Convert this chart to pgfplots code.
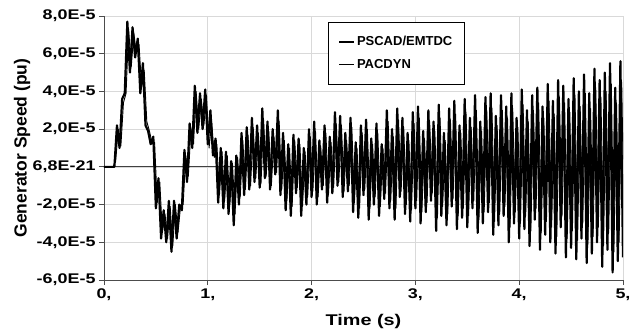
\documentclass[border=0pt]{standalone}
\usepackage{fontspec}
\setmainfont{Liberation Sans}
\newfontfamily\tickfont{Liberation Sans}[FakeStretch=1.28]
\usepackage{pgfplots}
\usepackage{pgfplotstable}
\pgfplotsset{compat=1.18}

\pgfplotstableread{
t y1 t2 y2
0.000 0 0.0125 0
0.025 0 0.0375 0
0.050 0 0.0625 0
0.075 0 0.0875 0
0.100 0 0.1125 0.3
0.125 2.2 0.1375 2.0
0.150 1.0 0.1625 1.1
0.175 3.6 0.1875 3.4
0.200 3.9 0.2125 3.9
0.225 7.7 0.2375 7.3
0.250 5.0 0.2625 5.3
0.275 7.4 0.2875 7.1
0.300 5.8 0.3125 6.0
0.325 6.8 0.3375 6.5
0.350 3.9 0.3625 4.2
0.375 5.5 0.3875 5.1
0.400 2.2 0.4125 2.4
0.425 1.9 0.4375 1.9
0.450 1.2 0.4625 1.3
0.475 1.6 0.4875 1.3
0.500 -2.2 0.5125 -1.9
0.525 -0.6 0.5375 -0.8
0.550 -3.8 0.5625 -3.5
0.575 -2.3 0.5875 -2.5
0.600 -4.0 0.6125 -3.8
0.625 -1.8 0.6375 -2.1
0.650 -4.5 0.6625 -4.2
0.675 -1.8 0.6875 -2.0
0.700 -3.8 0.7125 -3.5
0.725 -2.0 0.7375 -2.1
0.750 -2.3 0.7625 -2.0
0.775 0.9 0.7875 0.6
0.800 -0.8 0.8125 -0.5
0.825 2.3 0.8375 2.0
0.850 1.0 0.8625 1.2
0.875 4.3 0.8875 4.0
0.900 1.8 0.9125 2.0
0.925 3.9 0.9375 3.6
0.950 2.0 0.9625 2.2
0.975 4.1 0.9875 3.8
1.000 1.2 1.0125 1.0
1.025 3.0 1.0375 2.4
1.050 0.6 1.0625 0.5
1.075 1.5 1.0875 1.2
1.100 -1.9 1.1125 -1.5
1.125 1.0 1.1375 0.8
1.150 -2.2 1.1625 -1.8
1.175 0.8 1.1875 0.6
1.200 -2.5 1.2125 -2.0
1.225 0.3 1.2375 0.2
1.250 -3.1 1.2625 -2.5
1.275 0.6 1.2875 0.5
1.300 -2.0 1.3125 -1.6
1.325 1.8 1.3375 1.4
1.350 -1.5 1.3625 -1.2
1.375 2.1 1.3875 1.7
1.400 -1.2 1.4125 -1.0
1.425 2.6 1.4375 2.1
1.450 -0.8 1.4625 -0.6
1.475 2.2 1.4875 1.8
1.500 -1.1 1.5125 -0.9
1.525 3.1 1.5375 2.5
1.550 -0.6 1.5625 -0.5
1.575 2.4 1.5875 1.9
1.600 -1.2 1.6125 -1.0
1.625 2.0 1.6375 1.6
1.650 -0.4 1.6625 -0.3
1.675 3.0 1.6875 2.4
1.700 -1.5 1.7125 -1.2
1.725 1.8 1.7375 1.4
1.750 -2.3 1.7625 -1.8
1.775 1.2 1.7875 1.0
1.800 -2.6 1.8125 -2.1
1.825 1.7 1.8375 1.4
1.850 -1.4 1.8625 -1.1
1.875 1.5 1.8875 1.2
1.900 -2.6 1.9125 -2.1
1.925 1.0 1.9375 0.8
1.950 -2.0 1.9625 -1.6
1.975 2.0 1.9875 1.6
2.000 -1.6 2.0125 -1.3
2.025 2.4 2.0375 1.9
2.050 -2.0 2.0625 -1.6
2.075 1.4 2.0875 1.1
2.100 -1.2 2.1125 -1.0
2.125 2.2 2.1375 1.8
2.150 -1.9 2.1625 -1.5
2.175 1.6 2.1875 1.3
2.200 -1.4 2.2125 -1.1
2.225 2.9 2.2375 2.3
2.250 -1.0 2.2625 -0.8
2.275 2.7 2.2875 2.2
2.300 -1.6 2.3125 -1.3
2.325 1.8 2.3375 1.4
2.350 -1.3 2.3625 -1.0
2.375 2.6 2.3875 2.1
2.400 -2.4 2.4125 -1.9
2.425 1.3 2.4375 1.0
2.450 -2.7 2.4625 -2.2
2.475 2.2 2.4875 1.8
2.500 -1.5 2.5125 -1.2
2.525 2.5 2.5375 2.0
2.550 -2.8 2.5625 -2.2
2.575 1.5 2.5875 1.2
2.600 -2.0 2.6125 -1.6
2.625 2.3 2.6375 1.8
2.650 -2.6 2.6625 -2.1
2.675 1.2 2.6875 1.0
2.700 -1.7 2.7125 -1.4
2.725 3.0 2.7375 2.4
2.750 -2.2 2.7625 -1.8
2.775 2.0 2.7875 1.6
2.800 -2.8 2.8125 -2.2
2.825 3.1 2.8375 2.5
2.850 -1.6 2.8625 -1.3
2.875 2.6 2.8875 2.1
2.900 -2.5 2.9125 -2.0
2.925 1.8 2.9375 1.4
2.950 -2.9 2.9625 -2.3
2.975 2.9 2.9875 2.3
3.000 -2.2 3.0125 -1.8
3.025 3.2 3.0375 2.6
3.050 -3.0 3.0625 -2.4
3.075 1.9 3.0875 1.5
3.100 -2.4 3.1125 -1.9
3.125 3.0 3.1375 2.4
3.150 -1.8 3.1625 -1.4
3.175 2.4 3.1875 1.9
3.200 -3.4 3.2125 -2.7
3.225 3.3 3.2375 2.6
3.250 -2.6 3.2625 -2.1
3.275 1.8 3.2875 1.4
3.300 -3.1 3.3125 -2.5
3.325 3.1 3.3375 2.5
3.350 -2.1 3.3625 -1.7
3.375 3.5 3.3875 2.8
3.400 -3.3 3.4125 -2.6
3.425 2.2 3.4375 1.8
3.450 -2.7 3.4625 -2.2
3.475 3.6 3.4875 2.9
3.500 -3.2 3.5125 -2.6
3.525 2.6 3.5375 2.1
3.550 -2.2 3.5625 -1.8
3.575 3.8 3.5875 3.0
3.600 -3.5 3.6125 -2.8
3.625 2.4 3.6375 1.9
3.650 -3.0 3.6625 -2.4
3.675 3.7 3.6875 3.0
3.700 -2.4 3.7125 -1.9
3.725 3.9 3.7375 3.1
3.750 -3.6 3.7625 -2.9
3.775 2.7 3.7875 2.2
3.800 -3.1 3.8125 -2.5
3.825 3.8 3.8375 3.0
3.850 -2.6 3.8625 -2.1
3.875 3.2 3.8875 2.6
3.900 -4.0 3.9125 -3.2
3.925 3.9 3.9375 3.1
3.950 -3.0 3.9625 -2.4
3.975 2.6 3.9875 2.1
4.000 -3.8 4.0125 -3.0
4.025 4.1 4.0375 3.3
4.050 -3.3 4.0625 -2.6
4.075 3.0 4.0875 2.4
4.100 -4.2 4.1125 -3.4
4.125 3.8 4.1375 3.0
4.150 -2.8 4.1625 -2.2
4.175 4.2 4.1875 3.4
4.200 -4.4 4.2125 -3.5
4.225 3.2 4.2375 2.6
4.250 -3.6 4.2625 -2.9
4.275 4.4 4.2875 3.5
4.300 -4.0 4.3125 -3.2
4.325 3.5 4.3375 2.8
4.350 -4.6 4.3625 -3.7
4.375 4.6 4.3875 3.7
4.400 -3.2 4.4125 -2.6
4.425 4.3 4.4375 3.4
4.450 -4.8 4.4625 -3.8
4.475 3.6 4.4875 2.9
4.500 -4.3 4.5125 -3.4
4.525 4.7 4.5375 3.8
4.550 -4.9 4.5625 -3.9
4.575 4.0 4.5875 3.2
4.600 -3.8 4.6125 -3.0
4.625 4.9 4.6375 3.9
4.650 -5.1 4.6625 -4.1
4.675 3.9 4.6875 3.1
4.700 -4.6 4.7125 -3.7
4.725 5.2 4.7375 4.2
4.750 -4.0 4.7625 -3.2
4.775 4.6 4.7875 3.7
4.800 -5.3 4.8125 -4.2
4.825 5.0 4.8375 4.0
4.850 -4.4 4.8625 -3.5
4.875 5.5 4.8875 4.4
4.900 -5.6 4.9125 -4.5
4.925 4.2 4.9375 3.4
4.950 -5.0 4.9625 -4.0
4.975 5.6 4.9875 4.5
5.000 -4.8 5.0000 0.4
}\speed

\begin{document}
\begin{tikzpicture}
\useasboundingbox (-104bp,-53bp) rectangle (533bp,280bp);
\begin{axis}[
  scale only axis,
  width=519bp, height=264bp,
  xmin=0, xmax=5, ymin=-6, ymax=8,
  enlargelimits=false,
  axis lines=left,
  axis line style={-, black!70, line width=0.9bp},
  tick align=outside,
  major tick length=5bp,
  tick style={black!70, line width=0.9bp},
  grid=major,
  major grid style={black!15, line width=0.7bp},
  xtick={0,1,2,3,4,5},
  xticklabels={{0,},{1,},{2,},{3,},{4,},{5,}},
  ytick={-6,-4,-2,0,2,4,6,8},
  yticklabels={{-6,0E-5},{-4,0E-5},{-2,0E-5},{6,8E-21},{2,0E-5},{4,0E-5},{6,0E-5},{8,0E-5}},
  ticklabel style={font=\tickfont\bfseries\fontsize{14bp}{16bp}\selectfont},
  xlabel={Time (s)},
  ylabel={Generator Speed (pu)},
  x label style={at={(axis description cs:0.5,-0.159)}, anchor=center, font=\tickfont\bfseries\fontsize{15.5bp}{18bp}\selectfont},
  y label style={at={(axis description cs:-0.158,0.5)}, anchor=center, font=\bfseries\fontsize{17.5bp}{19bp}\selectfont},
  legend style={at={(rel axis cs:0.432,0.977)}, anchor=north west, draw=black, line width=0.8bp,
    fill=white, inner xsep=10bp, inner ysep=12bp, row sep=8bp,
    font=\bfseries\fontsize{13bp}{15bp}\selectfont},
  legend cell align=left,
  legend image code/.code={\draw[#1, line width=1.4bp] (0bp,0bp) -- (15bp,0bp);},
]
\draw[black!75, line width=0.9bp] (axis cs:0,0) -- (axis cs:5,0);
\addplot[black, line width=2.2bp, line join=round] table[x=t, y=y1] {\speed};
\addlegendentry{PSCAD/EMTDC}
\addplot[black, line width=0.9bp, line join=round] table[x=t2, y=y2] {\speed};
\addlegendentry{PACDYN}
\end{axis}
\end{tikzpicture}
\end{document}
